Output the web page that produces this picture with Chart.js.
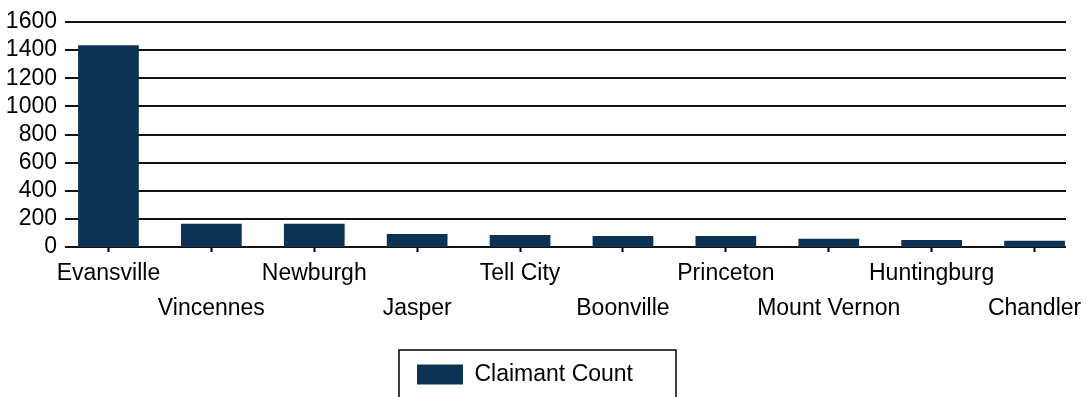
<!DOCTYPE html>
<html>
<head>
<meta charset="utf-8">
<script src="https://cdn.jsdelivr.net/npm/chart.js@4.4.1/dist/chart.umd.min.js"></script>
<style>
  html, body { margin: 0; padding: 0; background: #ffffff; }
  #wrap { width: 1086px; height: 397px; position: relative; }
</style>
</head>
<body>
<div id="wrap"><canvas id="claimChart"></canvas></div>
<script>
// ── data ──
const CITIES = [
  "Evansville", "Vincennes", "Newburgh", "Jasper", "Tell City",
  "Boonville", "Princeton", "Mount Vernon", "Huntingburg", "Chandler"
];
const CLAIMANTS = [1435, 166, 166, 92, 85, 78, 78, 59, 50, 45];
const Y_TICKS = [0, 200, 400, 600, 800, 1000, 1200, 1400, 1600];
const SERIES_NAME = "Claimant Count";

const BAR_COLOR = "#0c3254";
const FONT = "'Liberation Sans', Arial, sans-serif";
const LEGEND_SHIFT = 18;

// staggered labels: odd categories drop to a second row
const staggered = CITIES.map((c, i) => (i % 2 === 0 ? [c] : ["", c]));

// horizontal grid lines that stop short of the canvas edges like the original
const gridPlugin = {
  id: "shortGrid",
  beforeDatasetsDraw(chart) {
    const { ctx, chartArea, scales } = chart;
    const left = chartArea.left + 8;
    const right = chartArea.right - 20;
    ctx.save();
    ctx.strokeStyle = "#111";
    ctx.lineWidth = 2;
    Y_TICKS.forEach((v) => {
      const y = Math.round(scales.y.getPixelForValue(v));
      ctx.beginPath();
      ctx.moveTo(left, y);
      ctx.lineTo(right, y);
      ctx.stroke();
    });
    ctx.restore();
  },
};

// legend sits a little left of centre, with a frame cut off by the bottom edge
const legendFrame = {
  id: "legendFrame",
  beforeDraw(chart) {
    const lg = chart.legend;
    if (lg && !lg._shifted) {
      lg.left -= LEGEND_SHIFT;
      lg.right -= LEGEND_SHIFT;
      lg._shifted = true;
    }
  },
  afterDraw(chart) {
    const lg = chart.legend;
    if (!lg || !lg.legendHitBoxes.length) return;
    const hb = lg.legendHitBoxes[0];
    const { ctx } = chart;
    ctx.save();
    ctx.strokeStyle = "#000";
    ctx.lineWidth = 1.5;
    const x0 = hb.left - LEGEND_SHIFT - 18;
    const y0 = hb.top - 13;
    ctx.strokeRect(x0, y0, 277, 80);
    ctx.restore();
  },
};

new Chart(document.getElementById("claimChart"), {
  type: "bar",
  data: {
    labels: staggered,
    datasets: [
      {
        label: SERIES_NAME,
        data: CLAIMANTS,
        backgroundColor: BAR_COLOR,
        borderWidth: 0,
        barPercentage: 0.59,
        categoryPercentage: 1,
      },
    ],
  },
  options: {
    responsive: true,
    maintainAspectRatio: false,
    animation: false,
    layout: { padding: { top: 22, left: 0, right: 0, bottom: 1 } },
    plugins: {
      tooltip: { enabled: false },
      legend: {
        position: "bottom",
        labels: {
          boxWidth: 46,
          boxHeight: 20,
          padding: 10,
          color: "#000",
          font: { family: FONT, size: 23 },
        },
      },
    },
    scales: {
      x: {
        grid: {
          display: true,
          offset: false,
          drawOnChartArea: false,
          drawTicks: true,
          tickLength: 5,
          tickWidth: 2,
          tickColor: "#000",
        },
        border: { display: false },
        ticks: {
          autoSkip: false,
          maxRotation: 0,
          padding: 4.5,
          color: "#000",
          font: { family: FONT, size: 23, lineHeight: 1.52 },
        },
        afterFit(scale) { scale.height = 106; },
      },
      y: {
        min: 0,
        max: 1600,
        afterBuildTicks(scale) { scale.ticks = Y_TICKS.map((v) => ({ value: v })); },
        grid: { display: false, drawTicks: false, tickLength: 0 },
        border: { display: false },
        ticks: {
          autoSkip: false,
          padding: 0,
          color: "#000",
          font: { family: FONT, size: 23 },
          callback: (v) => String(v),
        },
        afterFit(scale) { scale.width = 57; },
      },
    },
  },
  plugins: [gridPlugin, legendFrame],
});
</script>
</body>
</html>
